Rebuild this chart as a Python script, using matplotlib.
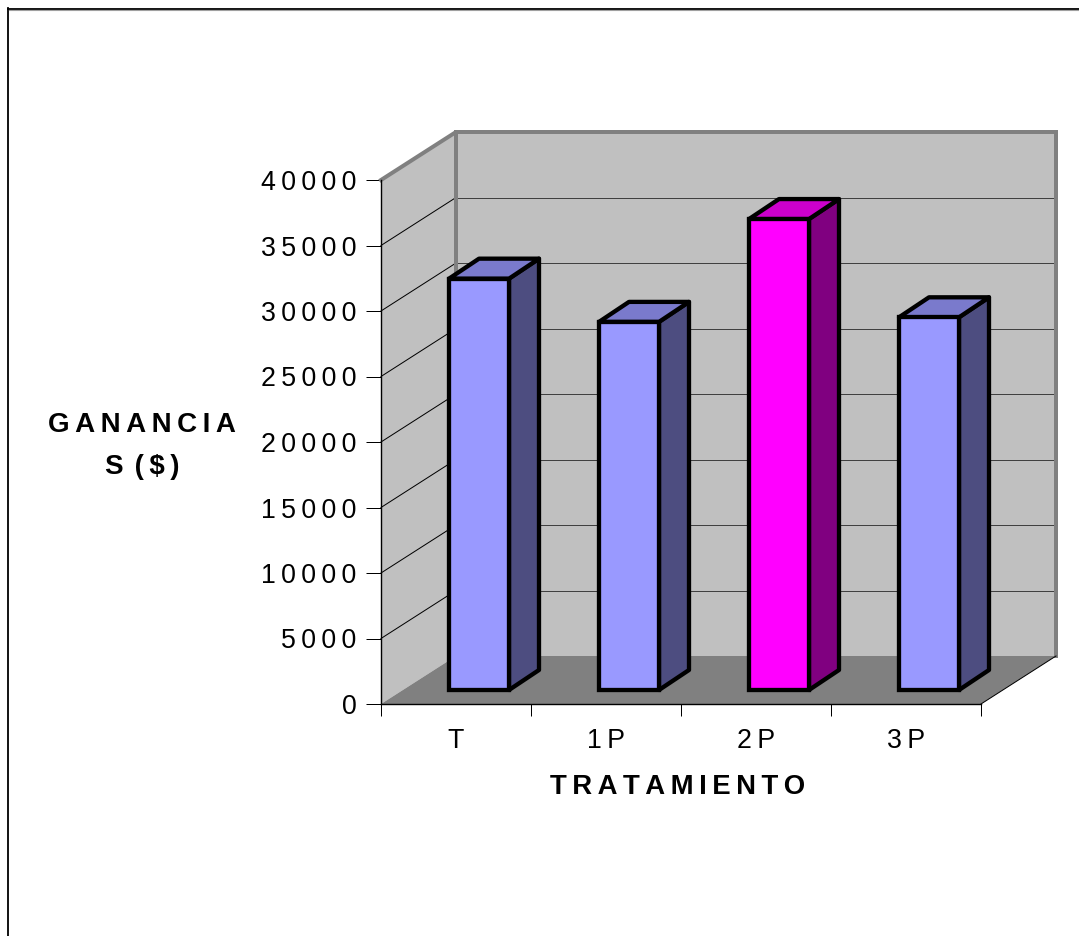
from matplotlib import pyplot as plt
from matplotlib.lines import Line2D
from matplotlib.patches import Polygon

plt.rcParams['font.family'] = ['Liberation Sans', 'DejaVu Sans']

categorias = ["T", "1P", "2P", "3P"]
ganancias = [31400, 28100, 35950, 28450]
colores = ["#9999FF", "#9999FF", "#FF00FF", "#9999FF"]
techos = ["#7A7ACC", "#7A7ACC", "#CC00CC", "#7A7ACC"]
lados = ["#4D4D80", "#4D4D80", "#800080", "#4D4D80"]
marcas_y = [0, 5000, 10000, 15000, 20000, 25000, 30000, 35000, 40000]

W, H = 1079, 936
ymax = 40000
px_x = 150          # pixeles por categoria
px_y = 524 / ymax   # pixeles por unidad

# profundidad del "3D", pasada a unidades de datos
fondo_x, fondo_y = 75 / px_x, 48 / px_y
base_x, base_y = 23 / px_x, 14 / px_y
prof_x, prof_y = 30 / px_x, 20 / px_y
ancho = 60 / px_x
gris = "#808080"
lw_barra = 4.3 * 72 / 100
lw_fino = 72 / 100


def espaciado(s):
    return "\u2009".join(s)


def cara(ax, puntos, color, z, **kw):
    ax.add_patch(Polygon(puntos, closed=True, facecolor=color, clip_on=False, zorder=z, **kw))


fig = plt.figure(figsize=(W / 100, H / 100), dpi=100)
ax = fig.add_axes([381 / W, 1 - 704 / H, 600 / W, 524 / H])
n = len(categorias)
ax.set_xlim(0, n)
ax.set_ylim(0, ymax)
ax.patch.set_visible(False)

# paredes y piso
cara(ax, [(fondo_x, fondo_y), (n + fondo_x, fondo_y), (n + fondo_x, fondo_y + ymax), (fondo_x, fondo_y + ymax)],
     "#C0C0C0", 1, edgecolor="none")
cara(ax, [(0, 0), (fondo_x, fondo_y), (fondo_x, fondo_y + ymax), (0, ymax)], "#C0C0C0", 1, edgecolor="none")
cara(ax, [(0, 0), (n, 0), (n + fondo_x, fondo_y), (fondo_x, fondo_y)], gris, 2, edgecolor="none")

# rejilla
for v in marcas_y[1:-1]:
    ax.plot([0, fondo_x], [v, v + fondo_y], color="black", lw=lw_fino, clip_on=False, zorder=3)
    ax.plot([fondo_x, n + fondo_x], [v + fondo_y, v + fondo_y], color="#404040", lw=lw_fino, clip_on=False, zorder=3)

# bordes grises de las paredes
ax.plot([0, fondo_x, n + fondo_x, n + fondo_x], [ymax, ymax + fondo_y, ymax + fondo_y, fondo_y],
        color=gris, lw=4 * 72 / 100, clip_on=False, zorder=4, solid_joinstyle="miter")
ax.plot([fondo_x, fondo_x], [fondo_y, ymax + fondo_y], color=gris, lw=4 * 72 / 100, clip_on=False, zorder=4)
ax.plot([n, n + fondo_x], [0, fondo_y], color="black", lw=lw_fino, clip_on=False, zorder=4)

# barras
for i, v in enumerate(ganancias):
    x0 = i + 0.5 + base_x - ancho / 2
    x1 = x0 + ancho
    y0 = base_y
    y1 = base_y + v
    borde = dict(edgecolor="black", linewidth=lw_barra, joinstyle="round")
    cara(ax, [(x1, y0), (x1 + prof_x, y0 + prof_y), (x1 + prof_x, y1 + prof_y), (x1, y1)], lados[i], 5, **borde)
    cara(ax, [(x0, y1), (x1, y1), (x1 + prof_x, y1 + prof_y), (x0 + prof_x, y1 + prof_y)], techos[i], 5, **borde)
    ax.bar(x0 + ancho / 2, v, ancho, bottom=y0, color=colores[i], edgecolor="black",
           linewidth=lw_barra, zorder=6)

# ejes
for lado in ["top", "right"]:
    ax.spines[lado].set_visible(False)
for lado in ["left", "bottom"]:
    ax.spines[lado].set_linewidth(lw_fino * 1.4)
    ax.spines[lado].set_zorder(7)
ax.set_yticks(marcas_y)
ax.set_yticklabels([espaciado(str(v)) for v in marcas_y], fontsize=19.3)
ax.set_xticks(range(n + 1))
ax.set_xticklabels([])
ax.set_xticks([i + 0.5 for i in range(n)], minor=True)
ax.set_xticklabels([espaciado(c) for c in categorias], minor=True, fontsize=19.3)
ax.tick_params(axis="y", length=15 * 0.72, width=lw_fino, pad=7)
ax.tick_params(axis="x", which="major", length=12 * 0.72, width=lw_fino)
ax.tick_params(axis="x", which="minor", length=0, pad=17)

fig.text(678 / W, 1 - 787 / H, espaciado("TRATAMIENTO"), fontsize=19.8, fontweight="bold",
         ha="center", va="center")
fig.text(142 / W, 1 - 446 / H, espaciado("GANANCIA") + "\nS\u2009\u2009(\u2009$\u2009)", fontsize=20,
         fontweight="bold", ha="center", va="center", linespacing=1.85)

# marco exterior
fig.add_artist(Line2D([8 / W, 8 / W], [0, 1 - 8 / H], color="black", lw=1.3))
fig.add_artist(Line2D([8 / W, 1], [1 - 8.5 / H, 1 - 8.5 / H], color="black", lw=1.3))
fig.add_artist(Line2D([9 / W, 1], [1 - 10 / H, 1 - 10 / H], color="#A0A0A0", lw=0.8))

fig.savefig("out.png", dpi=100)
